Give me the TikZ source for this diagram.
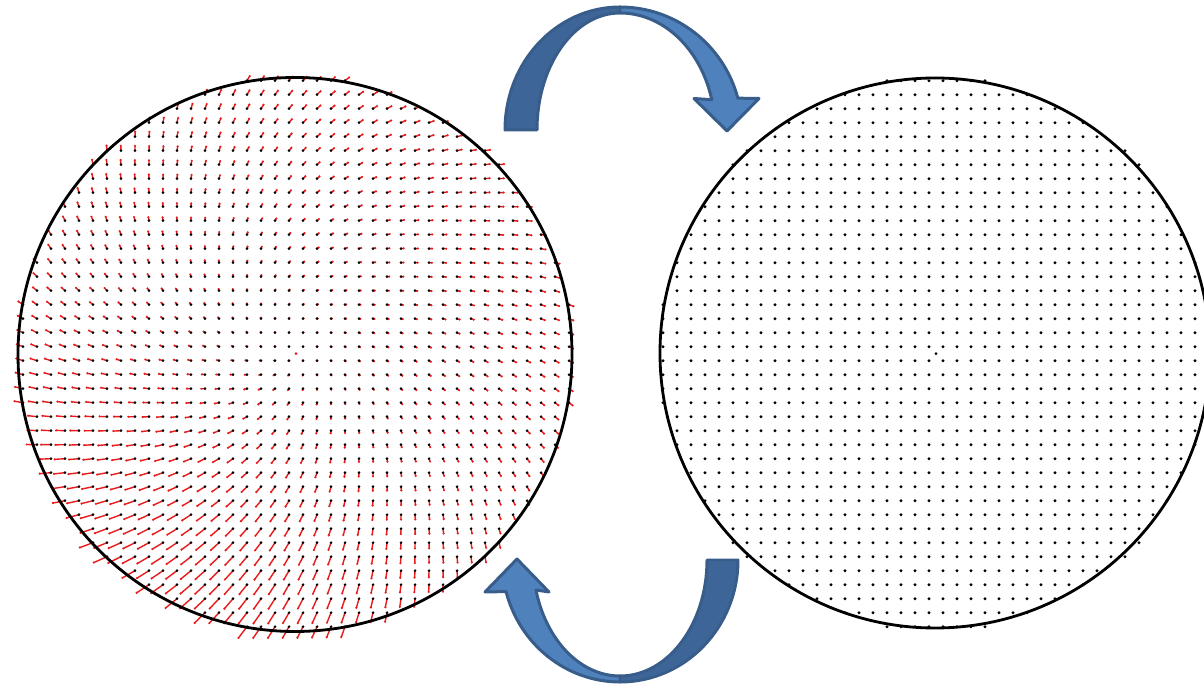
\documentclass[tikz,border=0pt]{standalone}
\usetikzlibrary{calc}
\definecolor{arrowfront}{RGB}{79,129,189}
\definecolor{arrowback}{RGB}{61,101,152}
\definecolor{arrowline}{RGB}{56,93,138}
\definecolor{vecred}{RGB}{232,28,28}
\begin{document}
\begin{tikzpicture}[x=0.02cm,y=0.02cm,
  rim/.style={line width=1.6pt,black},
  blade/.style={draw=arrowline,line width=1.7pt,line join=round},
  vec/.style={vecred,line width=0.8pt}]
  \useasboundingbox (0,0) rectangle (1204,-688);
  \coordinate (L) at (295,-354.5);
  \coordinate (Rc) at (935,-353);
  \coordinate (Lg) at (296,-353.7);
  \coordinate (Rg) at (936,-353.7);
  % grid and distortion field
  \foreach \i in {-20,...,19}{
    \foreach \j in {-20,...,19}{
      \pgfmathsetmacro\ox{7+14*\i}
      \pgfmathsetmacro\oy{7+14*\j}
      \pgfmathtruncatemacro\inside{veclen(\ox,\oy)<=277.5}
      \ifnum\inside=1
        \pgfmathsetmacro\ux{\ox/277}
        \pgfmathsetmacro\uy{\oy/277}
        \pgfmathsetmacro\r{veclen(\ux,\uy)}
        \pgfmathsetmacro\s{max(0,-(0.5*\ux+0.85*\uy)/\r)}
        \pgfmathsetmacro\q{max(0,-(0.3*\ux+0.95*\uy)/\r)}
        \pgfmathsetmacro\al{4+10*\s*\s}
        \pgfmathsetmacro\be{2+4.5*\q*\q+1.5*max(0,\uy/\r)}
        \pgfmathsetmacro\dx{\al*\ux+\be*\uy}
        \pgfmathsetmacro\dy{\al*\uy-\be*\ux}
        \draw[vec] ($(Lg)+(\ox,\oy)$) -- ++(\dx,\dy);
        \fill[vecred] ($(Lg)+(\ox+\dx,\oy+\dy)$) circle[radius=1.2];
        \fill ($(Lg)+(\ox,\oy)$) circle[radius=1.45];
        \fill ($(Rg)+(\ox,\oy)$) circle[radius=1.6];
      \fi
    }
  }
  \fill[vecred] (Lg) circle[radius=1.5];
  \fill (Rg) circle[radius=1.5];
  \draw[rim] (L) circle[radius=277];
  \draw[rim] (Rc) circle[radius=275];
  % upper arrow
  \coordinate (ta) at (620,-130);
  \filldraw[blade,fill=arrowback] (505,-130) arc[start angle=180,end angle=90,x radius=115,y radius=123]
    -- (620,-13) arc[start angle=90,end angle=180,x radius=83,y radius=117] -- cycle;
  \filldraw[blade,fill=arrowfront] (620,-7) arc[start angle=90,end angle=15,x radius=122,y radius=123]
    -- (759,-98.5) -- (727,-131) -- (694,-98.5) -- ($(ta)+(15:95 and 117)$)
    arc[start angle=15,end angle=90,x radius=95,y radius=117] -- cycle;
  % lower arrow
  \coordinate (ba) at (620,-560);
  \filldraw[blade,fill=arrowback] (738,-560) arc[start angle=0,end angle=-90,x radius=118,y radius=122]
    -- (620,-676) arc[start angle=-90,end angle=0,x radius=87,y radius=116] -- cycle;
  \filldraw[blade,fill=arrowfront] (620,-682) arc[start angle=270,end angle=195,x radius=118,y radius=122]
    -- (485,-592) -- (517,-559) -- (549,-592) -- ($(ba)+(195:87 and 116)$)
    arc[start angle=195,end angle=270,x radius=87,y radius=116] -- cycle;
\end{tikzpicture}
\end{document}
